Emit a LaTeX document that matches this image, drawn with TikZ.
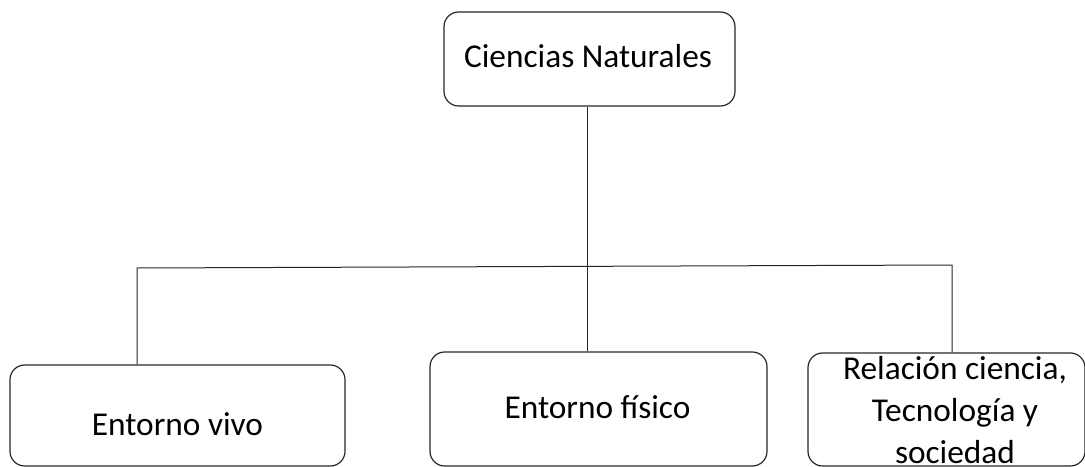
\documentclass[tikz,border=0pt]{standalone}
\usepackage{fontspec}
\setmainfont{Carlito}
\begin{document}
\begin{tikzpicture}[x=0.75pt,y=-0.75pt,
  box/.style={draw=black!85, rounded corners=11pt, line width=0.9pt, inner sep=0pt},
  lbl/.style={font=\fontsize{25}{31.5}\selectfont, inner sep=0pt, align=center},
  conn/.style={draw=black!85, line width=0.75pt}]
\useasboundingbox (0,0) rectangle (1085,467);
% boxes
\node[box, minimum width={291*0.75pt}, minimum height={94*0.75pt}] (top) at (589.5,59) {};
\node[box, minimum width={335*0.75pt}, minimum height={101*0.75pt}] (left) at (177.5,415.5) {};
\node[box, minimum width={337*0.75pt}, minimum height={114*0.75pt}] (mid) at (598.5,409) {};
\node[box, minimum width={277*0.75pt}, minimum height={113*0.75pt}] (right) at (946.5,409.5) {};
% texts
\node[lbl, anchor=base] (t0) at (588,68) {Ciencias Naturales};
\node[lbl, anchor=base] (t1) at (177.5,435) {Entorno vivo};
\node[lbl, anchor=base] (t2) at (597.5,418) {Entorno físico};
\node[lbl, anchor=base] (t3) at (955,463) {Relación ciencia,\\Tecnología y\\sociedad};
% connectors
\coordinate (vx) at (587,0);
\coordinate (hl) at (137,268);
\coordinate (hr) at (952,265);
\draw[conn] (top.south -| vx) -- (mid.north -| vx);
\draw[conn] (left.north -| hl) -- (hl) -- (hr) -- (right.north -| hr);
\end{tikzpicture}
\end{document}
